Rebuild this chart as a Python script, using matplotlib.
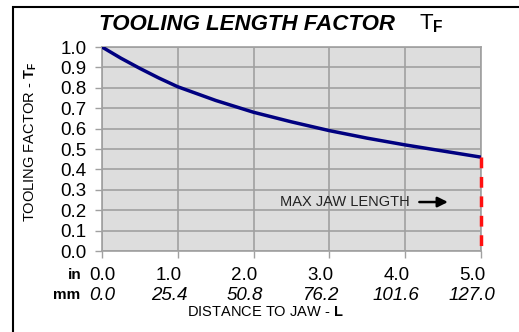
import matplotlib.pyplot as plt
import matplotlib.transforms as mtransforms
from matplotlib.patches import Rectangle

# Dados (fator de ferramenta x distância até a garra)
distancia_in = [0.0, 0.25, 0.5, 0.75, 1.0, 1.5, 2.0, 2.5, 3.0, 3.5, 4.0, 4.5, 5.0]
fator_tf = [1.0, 0.945, 0.895, 0.848, 0.805, 0.738, 0.68, 0.633, 0.59, 0.553, 0.52, 0.49, 0.46]

ticks_in = [0.0, 1.0, 2.0, 3.0, 4.0, 5.0]
rotulos_in = ["0.0", "1.0", "2.0", "3.0", "4.0", "5.0"]
rotulos_mm = ["0.0", "25.4", "50.8", "76.2", "101.6", "127.0"]
ticks_y = [i / 10 for i in range(11)]
rotulos_y = [f"{v:.1f}" for v in ticks_y]

comprimento_max = 5.0

plt.rcParams['font.family'] = ['Liberation Sans', 'DejaVu Sans']
plt.rcParams['mathtext.fontset'] = 'custom'
plt.rcParams['mathtext.rm'] = 'Liberation Sans'
plt.rcParams['mathtext.bf'] = 'Liberation Sans:bold'
plt.rcParams['mathtext.it'] = 'Liberation Sans:italic'

fig = plt.figure(figsize=(5.19, 3.32), dpi=100)
W, H = 519, 332
ax = fig.add_axes([102 / W, 1 - 251 / H, (481 - 102) / W, (251 - 47) / H])

# moldura preta (só esquerda e topo aparecem)
fig.patches.append(Rectangle((13 / W, -0.1), 1.2, 1 - 7 / H + 0.1,
                             transform=fig.transFigure, fill=False,
                             edgecolor='black', linewidth=1.5))

ax.set_facecolor('#dddddd')
ax.plot(distancia_in, fator_tf, color='#000080', linewidth=2.5, zorder=3)

# linha vermelha tracejada no comprimento máximo
ax.plot([comprimento_max, comprimento_max], [fator_tf[-1], 0.0], color='#ff1010',
        linewidth=2.5, linestyle=(0, (3.1, 2.5)), zorder=4, clip_on=False)

ax.annotate("", xy=(4.6, 0.24), xytext=(4.15, 0.24),
            arrowprops=dict(arrowstyle='-|>', color='black', lw=1.8, mutation_scale=15))
ax.text(4.06, 0.24, "MAX JAW LENGTH", fontsize=10.5, color='#222222',
        ha='right', va='center')

ax.set_xlim(0, 5)
ax.set_ylim(0, 1)
ax.set_yticks(ticks_y)
ax.set_yticklabels(rotulos_y, fontsize=13.5)
ax.set_xticks(ticks_in)
ax.set_xticklabels([])
ax.grid(True, color='#a0a0a0', linewidth=1.2)
ax.set_axisbelow(True)
for lado in ax.spines.values():
    lado.set_color('#a0a0a0')
    lado.set_linewidth(1.2)
ax.tick_params(axis='both', color='#a0a0a0', length=5, width=1, pad=6)

# rótulos do eixo x em polegadas e milímetros
for v, r_in, r_mm in zip(ticks_in, rotulos_in, rotulos_mm):
    desloc = 0 if v == 0 else -9
    tr = ax.get_xaxis_transform() + mtransforms.ScaledTranslation(desloc / 100, 0, fig.dpi_scale_trans)
    ax.text(v, 1 - 275 / H, r_in, transform=mtransforms.blended_transform_factory(tr, fig.transFigure),
            fontsize=13.5, ha='center', va='center')
    ax.text(v, 1 - 295 / H, r_mm, transform=mtransforms.blended_transform_factory(tr, fig.transFigure),
            fontsize=13.5, ha='center', va='center', style='italic')

fig.text(82 / W, 1 - 275 / H, "in", fontsize=11, fontweight='bold', ha='right', va='center')
fig.text(80 / W, 1 - 295 / H, "mm", fontsize=11, fontweight='bold', ha='right', va='center')

fig.text(265 / W, 1 - 312 / H, r"DISTANCE TO JAW - $\mathbf{L}$", fontsize=10.5,
         ha='center', va='center')
fig.text(31 / W, 1 - 142 / H, r"TOOLING FACTOR - $\mathbf{T_F}$", fontsize=10.5,
         rotation=90, ha='center', va='center')

fig.text(247 / W, 1 - 24 / H, "TOOLING LENGTH FACTOR", fontsize=16, style='italic',
         fontweight='bold', ha='center', va='center')
fig.text(419 / W, 1 - 24 / H, r"$\mathrm{T}_\mathbf{F}$", fontsize=16,
         ha='left', va='center')

fig.savefig("out.png", dpi=100)
